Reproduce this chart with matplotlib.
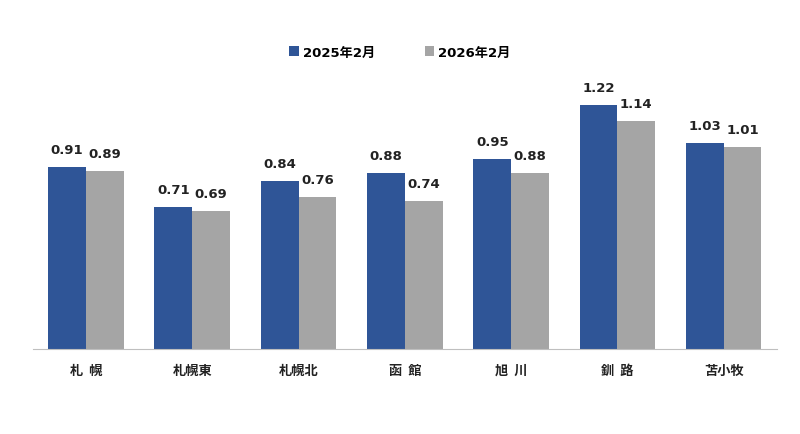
import matplotlib
matplotlib.use("Agg")
import matplotlib.pyplot as plt
import numpy as np

plt.rcParams['font.family'] = ['Noto Sans CJK JP', 'DejaVu Sans']

# data
areas = ['札  幌', '札幌東', '札幌北', '函  館', '旭  川', '釧  路', '苫小牧']
feb_2025 = [0.91, 0.71, 0.84, 0.88, 0.95, 1.22, 1.03]
feb_2026 = [0.89, 0.69, 0.76, 0.74, 0.88, 1.14, 1.01]
series_names = ['2025年2月', '2026年2月']

blue = '#2F5597'
gray = '#A5A5A5'
num_font = ['DejaVu Sans', 'Noto Sans CJK JP']

fig = plt.figure(figsize=(8, 4.35), dpi=100)
ax = fig.add_axes([0.041, 0.196, 0.93, 0.69])

x = np.arange(len(areas))
w = 0.355
b1 = ax.bar(x - w / 2, feb_2025, w, color=blue, label=series_names[0])
b2 = ax.bar(x + w / 2, feb_2026, w, color=gray, label=series_names[1])

for bars, vals in [(b1, feb_2025), (b2, feb_2026)]:
    for rect, v in zip(bars, vals):
        ax.annotate(f'{v:.2f}', (rect.get_x() + rect.get_width() / 2, v),
                    xytext=(0, 8), textcoords='offset points',
                    ha='center', va='bottom', fontsize=9.5, fontweight='bold',
                    family=num_font, color='#222222')

ax.set_xlim(-0.5, len(areas) - 0.5)
ax.set_ylim(0, 1.5)
ax.set_yticks([])
ax.set_xticks(x)
ax.set_xticklabels(areas, fontsize=9.5, fontweight='bold', color='#222222')
ax.tick_params(axis='x', length=0, pad=10)
for s in ['top', 'right', 'left']:
    ax.spines[s].set_visible(False)
ax.spines['bottom'].set_color('#BFBFBF')

fig.legend(handles=[b1, b2], labels=series_names, loc='center',
           bbox_to_anchor=(0.5, 0.878), ncol=2, frameon=False,
           prop={'weight': 'bold', 'size': 9.5, 'family': num_font},
           handlelength=0.7, handleheight=0.7, handletextpad=0.3,
           columnspacing=3.8)

fig.savefig('out.png', dpi=100)
